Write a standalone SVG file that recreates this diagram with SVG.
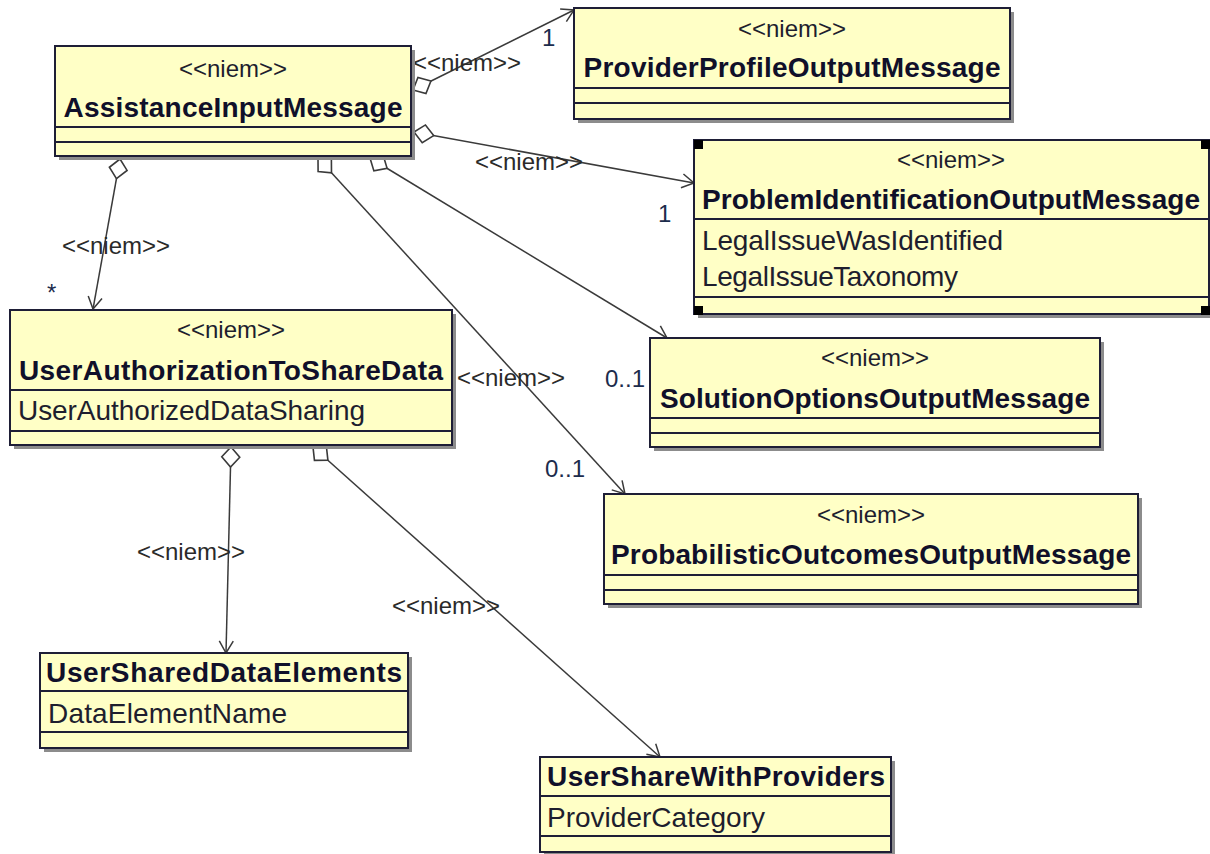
<svg xmlns="http://www.w3.org/2000/svg" width="1210" height="854" viewBox="0 0 1210 854">
<style>
.box{fill:#FFFFC6;stroke:#1e1e36;stroke-width:2}
.shadow{fill:#8c8c8c}
.sep{stroke:#1e1e36;stroke-width:2}
.st{font-family:"Liberation Sans",Arial,sans-serif;font-size:24px;fill:#1e1e2e;text-anchor:middle}
.nm{font-family:"Liberation Sans",Arial,sans-serif;font-size:28px;font-weight:bold;fill:#10102a;text-anchor:middle}
.at{font-family:"Liberation Sans",Arial,sans-serif;font-size:28px;fill:#1e1e2e}
.lbl{font-family:"Liberation Sans",Arial,sans-serif;font-size:24px;fill:#2a2a2a;text-anchor:middle}
.mul{font-family:"Liberation Sans",Arial,sans-serif;font-size:24px;fill:#1c2c4c}
.conn{stroke:#3a3a3a;stroke-width:1.5;fill:none;marker-start:url(#dia);marker-end:url(#arr)}
.hdl{fill:#000}
</style>
<defs>
<marker id="arr" markerUnits="userSpaceOnUse" viewBox="-14 -9 16 18" refX="0" refY="0" markerWidth="16" markerHeight="18" orient="auto">
<path d="M-12,-7 L0,0 L-12,7" fill="none" stroke="#3a3a3a" stroke-width="1.5"/>
</marker>
<marker id="dia" markerUnits="userSpaceOnUse" viewBox="-2 -11 24 22" refX="0" refY="0" markerWidth="24" markerHeight="22" orient="auto">
<path d="M0,0 L10,-9 L20,0 L10,9 Z" fill="#fff" stroke="#3a3a3a" stroke-width="1.6"/>
</marker>
</defs>

<g id="connectors">
<line class="conn" x1="413" y1="90" x2="574" y2="10"/>
<line class="conn" x1="414" y1="132" x2="694" y2="183"/>
<line class="conn" x1="370" y1="158" x2="667" y2="338"/>
<line class="conn" x1="318" y1="158" x2="625" y2="494"/>
<line class="conn" x1="120" y1="159" x2="93" y2="309"/>
<line class="conn" x1="231" y1="447" x2="226" y2="653"/>
<line class="conn" x1="313" y1="447" x2="660" y2="757"/>
<text class="lbl" x="467" y="71">&lt;&lt;niem&gt;&gt;</text>
<text class="lbl" x="529" y="170">&lt;&lt;niem&gt;&gt;</text>
<text class="lbl" x="116" y="254">&lt;&lt;niem&gt;&gt;</text>
<text class="lbl" x="511" y="386">&lt;&lt;niem&gt;&gt;</text>
<text class="lbl" x="191" y="560">&lt;&lt;niem&gt;&gt;</text>
<text class="lbl" x="446" y="614">&lt;&lt;niem&gt;&gt;</text>
<text class="mul" x="542" y="46">1</text>
<text class="mul" x="658" y="222">1</text>
<text class="mul" x="605" y="387">0..1</text>
<text class="mul" x="545" y="477">0..1</text>
<text class="mul" x="47" y="301">*</text>
</g>

<g id="AssistanceInputMessage">
<rect class="shadow" x="59" y="50" width="356" height="110"/>
<rect class="box" x="55" y="46" width="356" height="110"/>
<text class="st" x="233" y="77">&lt;&lt;niem&gt;&gt;</text>
<text class="nm" x="233" y="117" textLength="339" lengthAdjust="spacing">AssistanceInputMessage</text>
<line class="sep" x1="55" y1="127" x2="411" y2="127"/>
<line class="sep" x1="55" y1="142" x2="411" y2="142"/>
</g>

<g id="ProviderProfileOutputMessage">
<rect class="shadow" x="578" y="12" width="436" height="111"/>
<rect class="box" x="574" y="8" width="436" height="111"/>
<text class="st" x="792" y="37">&lt;&lt;niem&gt;&gt;</text>
<text class="nm" x="792" y="77" textLength="417" lengthAdjust="spacing">ProviderProfileOutputMessage</text>
<line class="sep" x1="574" y1="88" x2="1010" y2="88"/>
<line class="sep" x1="574" y1="103" x2="1010" y2="103"/>
</g>

<g id="ProblemIdentificationOutputMessage">
<rect class="shadow" x="698" y="144" width="515" height="174"/>
<rect class="box" x="694" y="140" width="515" height="174"/>
<text class="st" x="951" y="168">&lt;&lt;niem&gt;&gt;</text>
<text class="nm" x="951" y="209" textLength="498" lengthAdjust="spacing">ProblemIdentificationOutputMessage</text>
<line class="sep" x1="694" y1="219" x2="1209" y2="219"/>
<text class="at" x="702" y="250" textLength="301" lengthAdjust="spacing">LegalIssueWasIdentified</text>
<text class="at" x="702" y="286" textLength="256" lengthAdjust="spacing">LegalIssueTaxonomy</text>
<line class="sep" x1="694" y1="297" x2="1209" y2="297"/>
<rect class="hdl" x="694" y="140" width="9" height="9"/>
<rect class="hdl" x="1201" y="140" width="9" height="9"/>
<rect class="hdl" x="694" y="306" width="9" height="9"/>
<rect class="hdl" x="1201" y="306" width="9" height="9"/>
</g>

<g id="UserAuthorizationToShareData">
<rect class="shadow" x="14" y="314" width="442" height="135"/>
<rect class="box" x="10" y="310" width="442" height="135"/>
<text class="st" x="231" y="338">&lt;&lt;niem&gt;&gt;</text>
<text class="nm" x="231" y="380" textLength="424" lengthAdjust="spacing">UserAuthorizationToShareData</text>
<line class="sep" x1="10" y1="390" x2="452" y2="390"/>
<text class="at" x="18" y="420" textLength="347" lengthAdjust="spacing">UserAuthorizedDataSharing</text>
<line class="sep" x1="10" y1="431" x2="452" y2="431"/>
</g>

<g id="SolutionOptionsOutputMessage">
<rect class="shadow" x="654" y="342" width="450" height="109"/>
<rect class="box" x="650" y="338" width="450" height="109"/>
<text class="st" x="875" y="366">&lt;&lt;niem&gt;&gt;</text>
<text class="nm" x="875" y="408" textLength="430" lengthAdjust="spacing">SolutionOptionsOutputMessage</text>
<line class="sep" x1="650" y1="418" x2="1100" y2="418"/>
<line class="sep" x1="650" y1="433" x2="1100" y2="433"/>
</g>

<g id="ProbabilisticOutcomesOutputMessage">
<rect class="shadow" x="608" y="498" width="534" height="110"/>
<rect class="box" x="604" y="494" width="534" height="110"/>
<text class="st" x="871" y="523">&lt;&lt;niem&gt;&gt;</text>
<text class="nm" x="871" y="564" textLength="520" lengthAdjust="spacing">ProbabilisticOutcomesOutputMessage</text>
<line class="sep" x1="604" y1="575" x2="1138" y2="575"/>
<line class="sep" x1="604" y1="590" x2="1138" y2="590"/>
</g>

<g id="UserSharedDataElements">
<rect class="shadow" x="44" y="657" width="368" height="95"/>
<rect class="box" x="40" y="653" width="368" height="95"/>
<text class="nm" x="224" y="682" textLength="356" lengthAdjust="spacing">UserSharedDataElements</text>
<line class="sep" x1="40" y1="691" x2="408" y2="691"/>
<text class="at" x="48" y="723" textLength="239" lengthAdjust="spacing">DataElementName</text>
<line class="sep" x1="40" y1="732" x2="408" y2="732"/>
</g>

<g id="UserShareWithProviders">
<rect class="shadow" x="544" y="761" width="351" height="95"/>
<rect class="box" x="540" y="757" width="351" height="95"/>
<text class="nm" x="716" y="786" textLength="338" lengthAdjust="spacing">UserShareWithProviders</text>
<line class="sep" x1="540" y1="796" x2="891" y2="796"/>
<text class="at" x="547" y="827" textLength="218" lengthAdjust="spacing">ProviderCategory</text>
<line class="sep" x1="540" y1="836" x2="891" y2="836"/>
</g>
</svg>
